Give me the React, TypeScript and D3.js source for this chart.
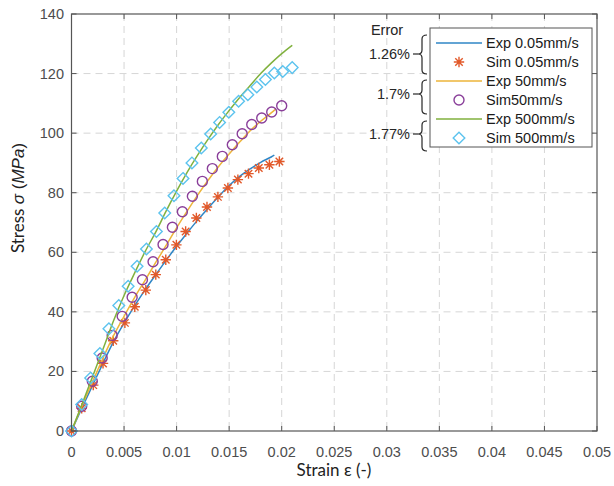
import React from 'react';
import * as d3 from 'd3';

// ---- axis ticks ----
const xTicks = [0, 0.005, 0.01, 0.015, 0.02, 0.025, 0.03, 0.035, 0.04, 0.045, 0.05];
const xTickLabels = ['0', '0.005', '0.01', '0.015', '0.02', '0.025', '0.03', '0.035', '0.04', '0.045', '0.05'];
const yTicks = [0, 20, 40, 60, 80, 100, 120, 140];
const yTickLabels = ['0', '20', '40', '60', '80', '100', '120', '140'];

// ---- Exp 0.05mm/s (line) ----
const expSlowStrain = [0, 0.001, 0.002, 0.003, 0.004, 0.005, 0.006, 0.007, 0.008, 0.009, 0.01, 0.011, 0.012, 0.013, 0.014, 0.015, 0.016, 0.017, 0.018, 0.019, 0.0193];
const expSlowStress = [0, 7.8, 15.3, 22.8, 30, 36.2, 42, 47.4, 52.4, 57.3, 62, 66.5, 70.8, 74.8, 78.7, 82.4, 85.5, 88, 90.2, 92, 92.6];

// ---- Sim 0.05mm/s (stars) ----
const simSlowStrain = [0, 0.00097, 0.00207, 0.003, 0.00397, 0.00508, 0.00602, 0.00707, 0.00802, 0.00897, 0.00998, 0.01086, 0.01188, 0.01289, 0.01393, 0.01488, 0.01583, 0.01684, 0.01782, 0.01883, 0.01978];
const simSlowStress = [0, 7.6, 15.4, 22.7, 30.3, 36.3, 41.7, 47.3, 52.5, 57.5, 62.5, 67.0, 71.5, 75.2, 78.6, 81.6, 84.4, 86.4, 88.3, 89.4, 90.5];

// ---- Exp 50mm/s (line) ----
const expMidStrain = [0, 0.001, 0.002, 0.003, 0.004, 0.005, 0.006, 0.007, 0.008, 0.009, 0.01, 0.011, 0.012, 0.013, 0.014, 0.015, 0.016, 0.017, 0.018, 0.019, 0.0194];
const expMidStress = [0, 8.5, 16.5, 24.5, 32, 38.5, 44.8, 50.6, 56.5, 62.3, 68.2, 73.8, 79.2, 84.2, 88.8, 93, 97, 100.8, 104, 106.8, 108];

// ---- Sim50mm/s (circles) ----
const simMidStrain = [0, 0.00097, 0.00198, 0.00292, 0.00387, 0.00482, 0.00577, 0.00675, 0.00776, 0.00871, 0.0096, 0.01055, 0.0115, 0.01245, 0.0134, 0.01435, 0.0153, 0.01624, 0.01715, 0.0181, 0.01905, 0.02];
const simMidStress = [0, 8.3, 16.7, 24.5, 32.1, 38.5, 44.9, 50.8, 56.8, 62.6, 68.4, 73.6, 78.8, 83.8, 88.1, 92.2, 96.1, 99.8, 102.9, 105.1, 107.1, 109.2];

// ---- Exp 500mm/s (line) ----
const expFastStrain = [0, 0.001, 0.002, 0.003, 0.004, 0.005, 0.006, 0.007, 0.008, 0.009, 0.01, 0.011, 0.012, 0.013, 0.014, 0.015, 0.016, 0.017, 0.018, 0.019, 0.02, 0.021];
const expFastStress = [0, 9, 18.2, 27.5, 37, 45.5, 53, 60.2, 66.7, 73.8, 80.5, 86.8, 92.6, 98, 103, 107.6, 112, 116, 120, 123.5, 126.7, 129.5];

// ---- Sim 500mm/s (diamonds) ----
const simFastStrain = [0, 0.00097, 0.00182, 0.0027, 0.00356, 0.0045, 0.00539, 0.00624, 0.00713, 0.00808, 0.00887, 0.00975, 0.01061, 0.01146, 0.01235, 0.01324, 0.01409, 0.01497, 0.0159, 0.01678, 0.01763, 0.01845, 0.0193, 0.0201, 0.021];
const simFastStress = [0, 8.9, 17.8, 26, 34.3, 42.1, 48.6, 55.3, 61.1, 67, 73.2, 79, 84.8, 90, 95, 99.7, 103.6, 107, 110.7, 112.9, 115.5, 118, 120.2, 120.7, 122];

// ---- legend & error labels ----
const legendLabels = ['Exp 0.05mm/s', 'Sim 0.05mm/s', 'Exp 50mm/s', 'Sim50mm/s', 'Exp 500mm/s', 'Sim 500mm/s'];
const errorLabels = ['1.26%', '1.7%', '1.77%'];

const C_BLUE = '#2f86c6';
const C_ORANGE = '#e2592a';
const C_YELLOW = '#edb53a';
const C_PURPLE = '#8a3f9a';
const C_GREEN = '#80b13e';
const C_CYAN = '#5cc3ee';

const zip = (a: number[], b: number[]) => a.map((v, i) => [v, b[i]] as [number, number]);

function starPath(r: number) {
  const a = r * 0.72;
  return `M${-r},0L${r},0M0,${-r}L0,${r}M${-a},${-a}L${a},${a}M${-a},${a}L${a},${-a}`;
}
function diamondPath(r: number) {
  return `M0,${-r}L${r},0L0,${r}L${-r},0Z`;
}
function bracePath(xs: number, t: number, m: number, b: number) {
  const xr = xs + 5;
  const xl = xs - 4;
  return `M${xr},${t}Q${xs},${t} ${xs},${t + 4}L${xs},${m - 4}Q${xs},${m} ${xl},${m}Q${xs},${m} ${xs},${m + 4}L${xs},${b - 4}Q${xs},${b} ${xr},${b}`;
}

export default function App() {
  const W = 614, H = 486;
  const L = 71.5, R = 597, T = 14, B = 431;
  const x = d3.scaleLinear().domain([0, 0.05]).range([L, R]);
  const y = d3.scaleLinear().domain([0, 140]).range([B, T]);
  const line = d3.line<[number, number]>().x(d => x(d[0])).y(d => y(d[1])).curve(d3.curveMonotoneX);

  const tickFont = '"Liberation Sans", Arial, sans-serif';
  const titleFont = 'Lato, "Open Sans", sans-serif';
  const axisColor = '#555555';
  const gridColor = '#d6d6d6';

  const legendX = 430, legendY = 28, legendW = 162, legendH = 119;
  const rowY = (i: number) => 43 + i * 19;
  const braces = [
    { t: 35, m: 54, b: 74 },
    { t: 80, m: 94, b: 114 },
    { t: 121, m: 134, b: 151 },
  ];

  return (
    <svg width={W} height={H} style={{ position: 'absolute', left: 0, top: 0, background: '#fff' }}>
      <rect x={0} y={0} width={W} height={H} fill="#fff" />
      {/* grid */}
      <g stroke={gridColor} strokeWidth={1} strokeDasharray="7,5">
        {xTicks.slice(1, -1).map(t => (
          <line key={'gx' + t} x1={x(t)} x2={x(t)} y1={T} y2={B} />
        ))}
        {yTicks.slice(1, -1).map(t => (
          <line key={'gy' + t} x1={L} x2={R} y1={y(t)} y2={y(t)} />
        ))}
      </g>

      {/* data */}
      <path d={line(zip(expSlowStrain, expSlowStress)) || ''} fill="none" stroke={C_BLUE} strokeWidth={1.5} />
      <g stroke={C_ORANGE} strokeWidth={1.4} fill="none">
        {simSlowStrain.map((s, i) => (
          <path key={'s' + i} d={starPath(5.2)} transform={`translate(${x(s)},${y(simSlowStress[i])})`} />
        ))}
      </g>
      <path d={line(zip(expMidStrain, expMidStress)) || ''} fill="none" stroke={C_YELLOW} strokeWidth={1.5} />
      <g stroke={C_PURPLE} strokeWidth={1.4} fill="none">
        {simMidStrain.map((s, i) => (
          <circle key={'c' + i} cx={x(s)} cy={y(simMidStress[i])} r={5} />
        ))}
      </g>
      <path d={line(zip(expFastStrain, expFastStress)) || ''} fill="none" stroke={C_GREEN} strokeWidth={1.5} />
      <g stroke={C_CYAN} strokeWidth={1.4} fill="none">
        {simFastStrain.map((s, i) => (
          <path key={'d' + i} d={diamondPath(5.8)} transform={`translate(${x(s)},${y(simFastStress[i])})`} />
        ))}
      </g>

      {/* axes box */}
      <rect x={L} y={T} width={R - L} height={B - T} fill="none" stroke={axisColor} strokeWidth={1.2} />
      <g stroke={axisColor} strokeWidth={1}>
        {xTicks.map(t => (
          <g key={'tx' + t}>
            <line x1={x(t)} x2={x(t)} y1={B} y2={B - 5} />
            <line x1={x(t)} x2={x(t)} y1={T} y2={T + 5} />
          </g>
        ))}
        {yTicks.map(t => (
          <g key={'ty' + t}>
            <line x1={L} x2={L + 5} y1={y(t)} y2={y(t)} />
            <line x1={R} x2={R - 5} y1={y(t)} y2={y(t)} />
          </g>
        ))}
      </g>

      {/* tick labels */}
      <g fontFamily={tickFont} fontSize={14.5} fill="#4d4d4d">
        {xTicks.map((t, i) => (
          <text key={'lx' + t} x={x(t)} y={457} textAnchor="middle">{xTickLabels[i]}</text>
        ))}
        {yTicks.map((t, i) => (
          <text key={'ly' + t} x={64} y={y(t) + 5} textAnchor="end">{yTickLabels[i]}</text>
        ))}
      </g>

      {/* axis titles */}
      <text x={334} y={476} textAnchor="middle" fontFamily={titleFont} fontSize={17} fill="#222">Strain ε (-)</text>
      <text transform="translate(24,198) rotate(-90)" textAnchor="middle" fontFamily={titleFont} fontSize={17} fill="#222">
        Stress <tspan fontStyle="italic" fontFamily={tickFont}>σ</tspan><tspan fontFamily={tickFont}> (</tspan><tspan fontStyle="italic" fontFamily={tickFont}>MPa</tspan><tspan fontFamily={tickFont}>)</tspan>
      </text>

      {/* legend */}
      <rect x={legendX} y={legendY} width={legendW} height={legendH} fill="#fff" stroke={axisColor} strokeWidth={1} />
      {legendLabels.map((lab, i) => {
        const yy = rowY(i);
        let sym: React.ReactNode = null;
        if (i === 0) sym = <line x1={436} x2={482} y1={yy} y2={yy} stroke={C_BLUE} strokeWidth={1.5} />;
        if (i === 1) sym = <path d={starPath(5.2)} transform={`translate(459,${yy})`} stroke={C_ORANGE} strokeWidth={1.4} fill="none" />;
        if (i === 2) sym = <line x1={436} x2={482} y1={yy} y2={yy} stroke={C_YELLOW} strokeWidth={1.5} />;
        if (i === 3) sym = <circle cx={459} cy={yy} r={5} stroke={C_PURPLE} strokeWidth={1.4} fill="none" />;
        if (i === 4) sym = <line x1={436} x2={482} y1={yy} y2={yy} stroke={C_GREEN} strokeWidth={1.5} />;
        if (i === 5) sym = <path d={diamondPath(5.8)} transform={`translate(459,${yy})`} stroke={C_CYAN} strokeWidth={1.4} fill="none" />;
        return (
          <g key={'lg' + i}>
            {sym}
            <text x={486} y={yy + 5} fontFamily={tickFont} fontSize={14.5} fill="#1a1a1a">{lab}</text>
          </g>
        );
      })}

      {/* error annotations */}
      <text x={387} y={35} textAnchor="middle" fontFamily={tickFont} fontSize={14.5} fill="#262626">Error</text>
      <g stroke="#262626" strokeWidth={1.2} fill="none">
        {braces.map((b, i) => (
          <g key={'br' + i}>
            <path d={bracePath(422, b.t, b.m, b.b)} />
            <line x1={413} x2={418} y1={b.m} y2={b.m} />
          </g>
        ))}
      </g>
      {braces.map((b, i) => (
        <text key={'el' + i} x={410} y={b.m + 5} textAnchor="end" fontFamily={tickFont} fontSize={14.5} fill="#262626">{errorLabels[i]}</text>
      ))}
    </svg>
  );
}
